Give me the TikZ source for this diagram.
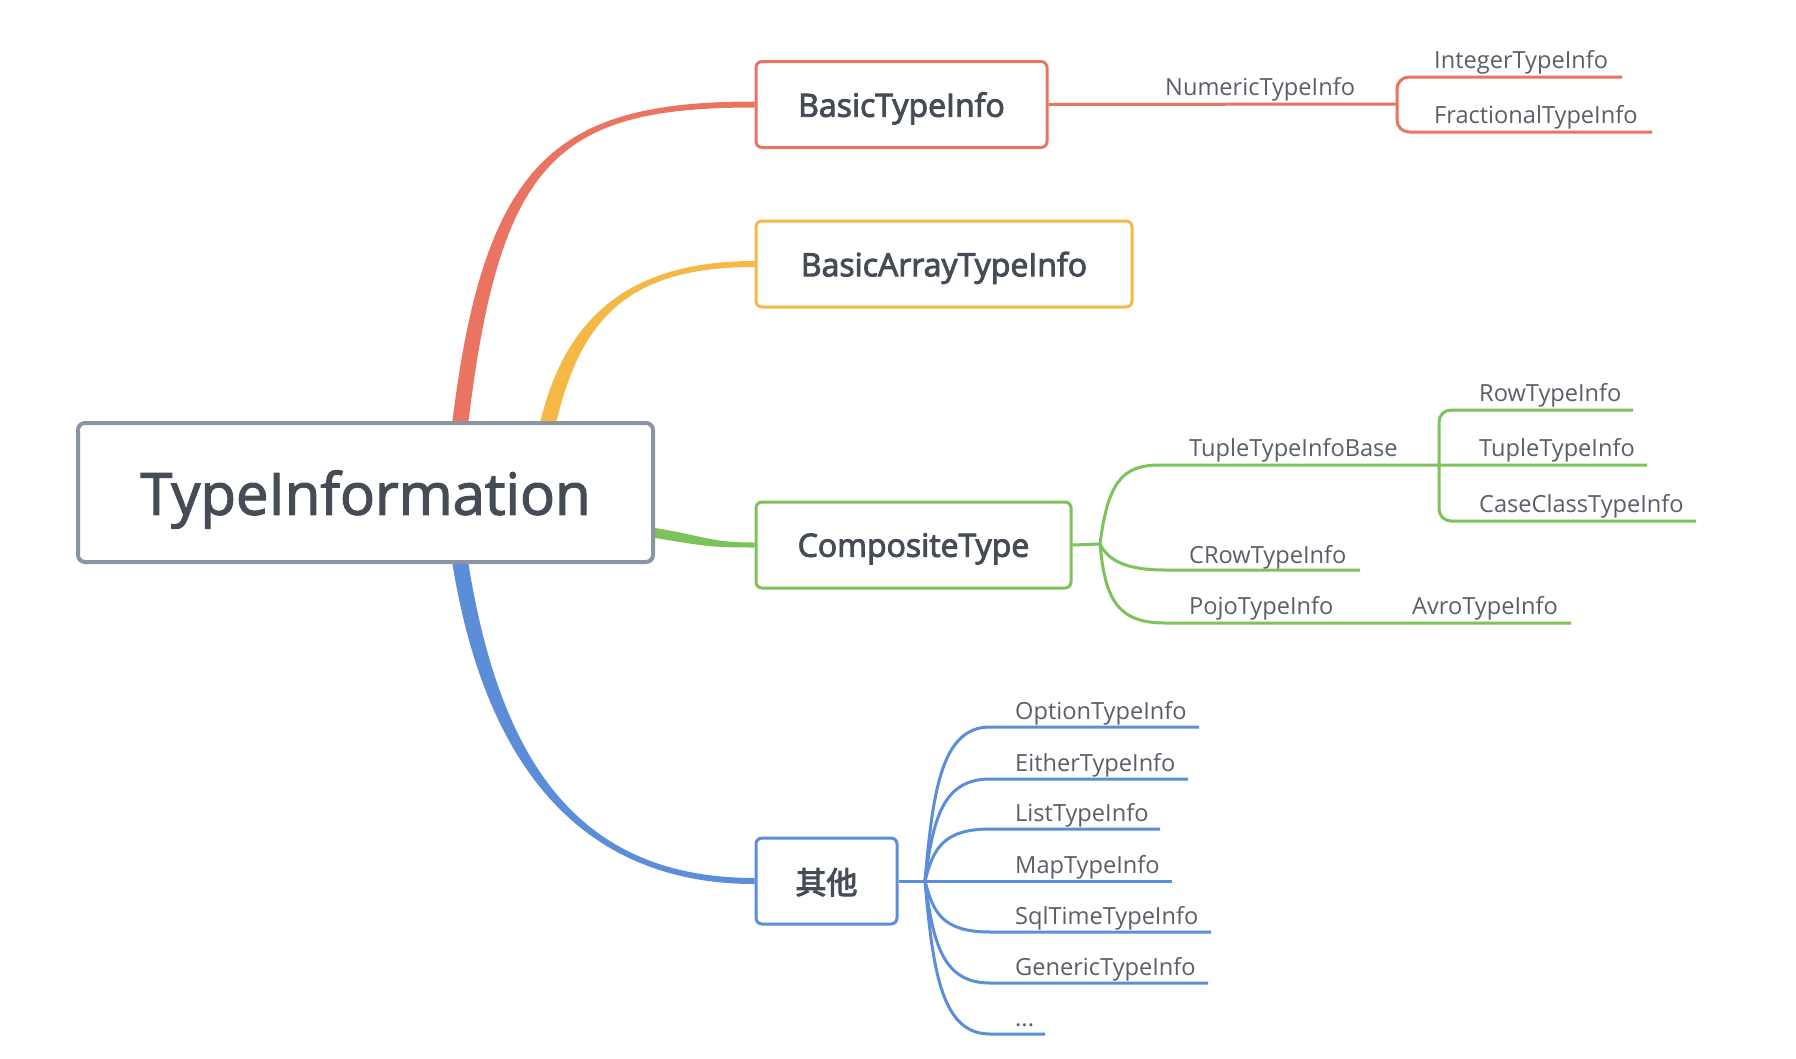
\documentclass[tikz,border=0pt]{standalone}
\usepackage{fontspec}
\setmainfont{Open Sans}
\newfontfamily\cjk{Noto Sans CJK SC}
\usetikzlibrary{backgrounds,calc}
\definecolor{cRed}{HTML}{EB7361}
\definecolor{cYel}{HTML}{F5B845}
\definecolor{cGrn}{HTML}{7CC35A}
\definecolor{cBlu}{HTML}{5B8DD9}
\definecolor{cRoot}{HTML}{8A94A5}
\definecolor{ink}{HTML}{454C56}
\definecolor{lblink}{HTML}{5A5F67}
\tikzset{
  rootbox/.style={draw=cRoot, line width=4pt, rounded corners=7pt, fill=white, inner sep=0pt,
    minimum width=575pt, minimum height=139pt, text=ink, text depth=0pt,
    font=\fontsize{58}{66}\selectfont\addfontfeature{FakeBold=2}},
  topic/.style={draw, line width=3pt, rounded corners=6pt, fill=white, inner sep=0pt,
    minimum height=86pt, text=ink, text depth=0pt,
    font=\fontsize{32}{38}\selectfont\addfontfeature{FakeBold=3}},
  lbl/.style={text=lblink, inner sep=0pt, anchor=base west, font=\fontsize{23.6}{28}\selectfont},
  sub/.style={line width=3pt},
}
\begin{document}
\begin{tikzpicture}[x=1pt, y=-1pt]
\useasboundingbox (0,0) rectangle (1796,1058);

% central topic and main topics
\node[rootbox] (root) at (365.5,492.5) {TypeInformation};
\node[topic, draw=cRed, minimum width=291pt] (bt) at (901.5,104.5) {BasicTypeInfo};
\node[topic, draw=cYel, minimum width=376pt] (bat) at (944,264) {BasicArrayTypeInfo};
\node[topic, draw=cGrn, minimum width=315pt] (ct) at (913.5,545) {CompositeType};
\node[topic, draw=cBlu, minimum width=141pt, font=\cjk\fontsize{31}{36}\selectfont\addfontfeature{FakeBold=3}] (bo) at (826.5,881) {其他};

% tapered main branches, under the topic boxes
\begin{pgfonlayer}{background}
\fill[white] (0,0) rectangle (1796,1058);
\coordinate (rS) at ([xshift=95pt]root.north);
\coordinate (yS) at ([xshift=183pt]root.north);
\coordinate (bS) at ([xshift=95pt]root.south);
\coordinate (gS) at ([yshift=-40.5pt]root.east);
\fill[cRed] ([xshift=-8pt]rS) .. controls +(32,-263) and +(-196,0) .. ([yshift=3pt]bt.west)
  -- ([yshift=-3pt]bt.west) .. controls +(-196,0) and +(32,-263) .. ([xshift=8pt]rS) -- cycle;
\fill[cYel] ([xshift=-8pt]yS) .. controls +(25,-103) and +(-126,0) .. ([yshift=3pt]bat.west)
  -- ([yshift=-3pt]bat.west) .. controls +(-126,0) and +(25,-103) .. ([xshift=8pt]yS) -- cycle;
\fill[cBlu] ([xshift=-8pt]bS) .. controls +(32,198) and +(-176,0) .. ([yshift=-3pt]bo.west)
  -- ([yshift=3pt]bo.west) .. controls +(-176,0) and +(32,198) .. ([xshift=8pt]bS) -- cycle;
\fill[cGrn] ([yshift=5pt]gS) .. controls +(50,8) and +(-45,0) .. ([yshift=2.5pt]ct.west)
  -- ([yshift=-2.5pt]ct.west) .. controls +(-45,0) and +(50,8) .. ([yshift=-5pt]gS) -- cycle;
\end{pgfonlayer}

% BasicTypeInfo subtree
\coordinate (numJ) at (1397,104);
\coordinate (intE) at (1622,77);
\coordinate (fracE) at (1652,132);
\draw[cRed, sub] (bt.east) -- (numJ);
\draw[cRed, sub, rounded corners=12pt] (numJ) |- (intE);
\draw[cRed, sub, rounded corners=12pt] (numJ) |- (fracE);
\node[lbl] (num) at (1165,95) {NumericTypeInfo};
\node[lbl] (int) at (1434,68) {IntegerTypeInfo};
\node[lbl] (frac) at (1434,123) {FractionalTypeInfo};

% CompositeType subtree
\coordinate (cJ) at (1100,544);
\coordinate (tbS) at (1160,465);
\coordinate (tbJ) at (1439,465);
\coordinate (tupE) at (1647,465);
\coordinate (rowE) at (1633,410);
\coordinate (ccE) at (1696,521);
\coordinate (crS) at (1165,570);
\coordinate (crE) at (1360,570);
\coordinate (pjS) at (1165,623);
\coordinate (pjE) at (1571,623);
\draw[cGrn, sub] (ct.east) -- (cJ);
\draw[cGrn, sub] (cJ) .. controls (1108,482) and (1122,465) .. (tbS) -- (tupE);
\draw[cGrn, sub, rounded corners=12pt] (tbJ) |- (rowE);
\draw[cGrn, sub, rounded corners=12pt] (tbJ) |- (ccE);
\draw[cGrn, sub] (cJ) .. controls (1108,560) and (1125,570) .. (crS) -- (crE);
\draw[cGrn, sub] (cJ) .. controls (1105,600) and (1118,623) .. (pjS) -- (pjE);
\node[lbl] (tbase) at (1189,456) {TupleTypeInfoBase};
\node[lbl] (row) at (1479,401) {RowTypeInfo};
\node[lbl] (tup) at (1479,456) {TupleTypeInfo};
\node[lbl] (cc) at (1479,512) {CaseClassTypeInfo};
\node[lbl] (crow) at (1189,563) {CRowTypeInfo};
\node[lbl] (pojo) at (1189,614) {PojoTypeInfo};
\node[lbl] (avro) at (1412,614) {AvroTypeInfo};

% other types
\coordinate (oJ) at (925,881);
\draw[cBlu, sub] (bo.east) -- (oJ);
\foreach \nm/\yy/\xe/\cy/\txt in {
    opt/727/1199/-92/OptionTypeInfo,
    eit/779/1188/-61/EitherTypeInfo,
    lst/829/1160/-31/ListTypeInfo,
    map/881/1172/0/MapTypeInfo,
    sql/932/1211/31/SqlTimeTypeInfo,
    gen/983/1208/61/GenericTypeInfo,
    etc/1034/1045/92/{...}} {
  \coordinate (\nm S) at (990,\yy);
  \coordinate (\nm E) at (\xe,\yy);
  \draw[cBlu, sub] (oJ) .. controls +(8,\cy) and +(-48,0) .. (\nm S) -- (\nm E);
  \node[lbl] (\nm) at (1015,\yy-8) {\txt};
}
\end{tikzpicture}
\end{document}
